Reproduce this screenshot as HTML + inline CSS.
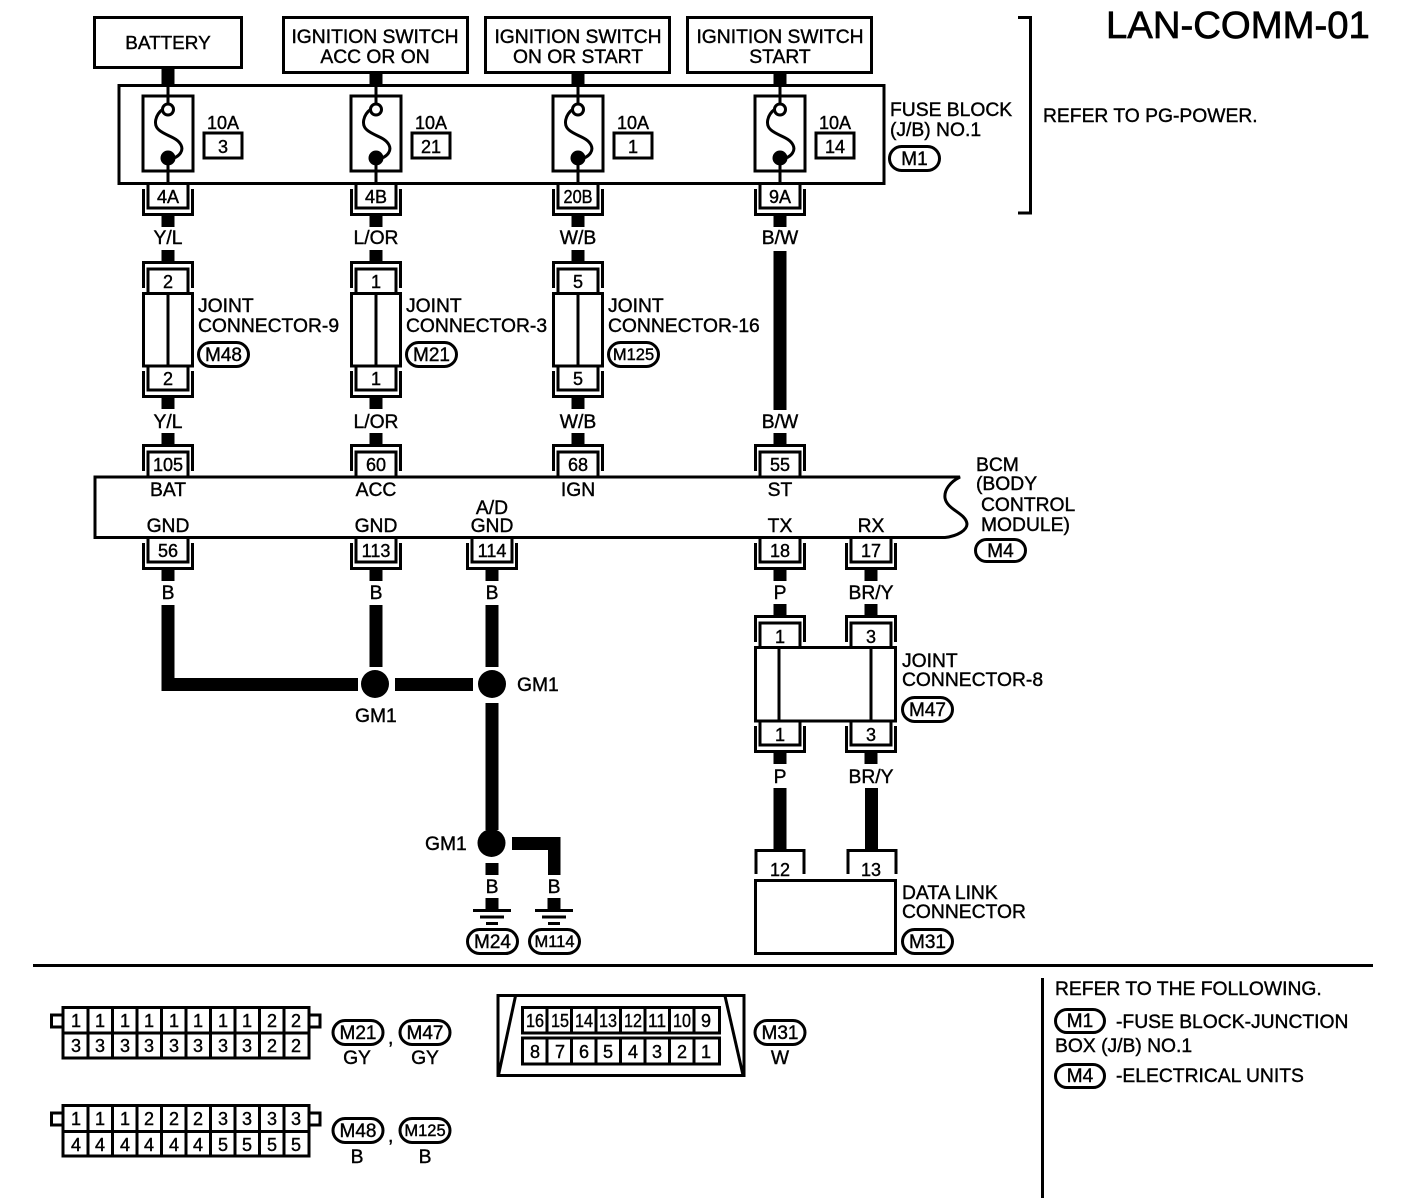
<!DOCTYPE html>
<html>
<head>
<meta charset="utf-8">
<style>
html,body{margin:0;padding:0;background:#fff;}
svg{display:block;}
text{font-family:"Liberation Sans",Arial,sans-serif;font-size:19.3px;fill:#000;stroke:#000;stroke-width:.4px;}
.c{text-anchor:middle;}
.n{font-size:18px;text-anchor:middle;}
.p{font-size:19px;text-anchor:middle;}
.s{fill:none;stroke:#000;stroke-width:3;}
.w{fill:#000;stroke:none;}
.l{fill:#fff;stroke:#000;stroke-width:3;}
</style>
</head>
<body>
<svg width="1408" height="1198" viewBox="0 0 1408 1198" xmlns="http://www.w3.org/2000/svg">
<defs>
<g id="u"><path class="s" d="M-20,0V24H20V0M-24.5,5V30.5H24.5V5"/><rect class="w" x="-6.5" y="31" width="13" height="12"/></g>
<g id="f">
<rect class="l" x="-25" y="12" width="50" height="75"/>
<path class="s" d="M0,1V19M0,74V98"/>
<circle cx="0" cy="25.5" r="5.5" fill="#fff" stroke="#000" stroke-width="3"/>
<circle cx="0" cy="74" r="7.5" fill="#000"/>
<path class="s" d="M-5,25C-13,31-15,41-9,46C-2,52,9,53,13,61C16,67,11,72,6,74"/>
<rect class="s" x="36" y="49" width="38" height="25"/>
</g>
<g id="g"><rect class="w" x="-6.5" y="0" width="13" height="11"/><path class="s" d="M-19,12.5H19M-12,19H12M-6,25.5H6"/></g>
</defs>

<!-- Title -->
<text x="1106" y="38" style="font-size:38.3px;stroke-width:.7px">LAN-COMM-01</text>

<!-- Top source boxes -->
<rect class="s" x="94.500" y="17.500" width="147" height="50" />
<rect class="s" x="283.500" y="17.500" width="184" height="55"/>
<rect class="s" x="485.500" y="17.500" width="184" height="55"/>
<rect class="s" x="687.500" y="17.500" width="184" height="55"/>
<text class="c" x="168" y="49" style="font-size:18.9px">BATTERY</text>
<text class="c" x="375" y="43">IGNITION SWITCH</text><text class="c" x="375" y="63">ACC OR ON</text>
<text class="c" x="578" y="43">IGNITION SWITCH</text><text class="c" x="578" y="63">ON OR START</text>
<text class="c" x="780" y="43">IGNITION SWITCH</text><text class="c" x="780" y="63">START</text>
<rect class="w" x="161.500" y="67" width="13" height="18"/>
<rect class="w" x="369.500" y="72" width="13" height="13"/>
<rect class="w" x="571.500" y="72" width="13" height="13"/>
<rect class="w" x="773.500" y="72" width="13" height="13"/>

<!-- Fuse block -->
<rect class="s" x="119" y="85.500" width="765" height="98"/>
<use href="#f" transform="translate(168,84)"/>
<use href="#f" transform="translate(376,84)"/>
<use href="#f" transform="translate(578,84)"/>
<use href="#f" transform="translate(780,84)"/>
<text class="n" x="223" y="129">10A</text><text class="n" x="223" y="153">3</text>
<text class="n" x="431" y="129">10A</text><text class="n" x="431" y="153">21</text>
<text class="n" x="633" y="129">10A</text><text class="n" x="633" y="153">1</text>
<text class="n" x="835" y="129">10A</text><text class="n" x="835" y="153">14</text>
<text x="890" y="116">FUSE BLOCK</text><text x="890" y="136">(J/B) NO.1</text>
<rect class="s" x="889.500" y="146.500" width="50" height="24" rx="12"/>
<text class="p" x="914.500" y="165">M1</text>
<path class="s" d="M1018,17.500H1030.500V213H1018"/>
<text x="1043" y="122">REFER TO PG-POWER.</text>

<!-- Fuse block output connectors -->
<use href="#u" transform="translate(168,184)"/>
<use href="#u" transform="translate(376,184)"/>
<use href="#u" transform="translate(578,184)"/>
<use href="#u" transform="translate(780,184)"/>
<text class="n" x="168" y="203">4A</text>
<text class="n" x="376" y="203">4B</text>
<text class="n" x="578" y="203" textLength="29" lengthAdjust="spacingAndGlyphs">20B</text>
<text class="n" x="780" y="203">9A</text>
<text class="c" x="168" y="244">Y/L</text>
<text class="c" x="376" y="244">L/OR</text>
<text class="c" x="578" y="244">W/B</text>
<text class="c" x="780" y="244">B/W</text>
<rect class="w" x="773.500" y="251" width="13" height="159"/>

<!-- Joint connectors top row -->
<use href="#u" transform="translate(168,293) scale(1,-1)"/>
<use href="#u" transform="translate(376,293) scale(1,-1)"/>
<use href="#u" transform="translate(578,293) scale(1,-1)"/>
<rect class="s" x="143.500" y="293.500" width="49" height="72.500"/><path class="s" d="M168,293V366"/>
<rect class="s" x="351.500" y="293.500" width="49" height="72.500"/><path class="s" d="M376,293V366"/>
<rect class="s" x="553.500" y="293.500" width="49" height="72.500"/><path class="s" d="M578,293V366"/>
<text class="n" x="168" y="288">2</text><text class="n" x="376" y="288">1</text><text class="n" x="578" y="288">5</text>
<use href="#u" transform="translate(168,366)"/>
<use href="#u" transform="translate(376,366)"/>
<use href="#u" transform="translate(578,366)"/>
<text class="n" x="168" y="385">2</text><text class="n" x="376" y="385">1</text><text class="n" x="578" y="385">5</text>

<text x="198" y="312">JOINT</text><text x="198" y="332">CONNECTOR-9</text>
<rect class="s" x="198.500" y="342.500" width="50" height="24" rx="12"/><text class="p" x="223.500" y="361">M48</text>
<text x="406" y="312">JOINT</text><text x="406" y="332">CONNECTOR-3</text>
<rect class="s" x="406.500" y="342.500" width="50" height="24" rx="12"/><text class="p" x="431.500" y="361">M21</text>
<text x="608" y="312">JOINT</text><text x="608" y="332">CONNECTOR-16</text>
<rect class="s" x="608.500" y="342.500" width="50" height="24" rx="12"/><text class="p" x="633.500" y="360" style="font-size:16.5px">M125</text>

<text class="c" x="168" y="428">Y/L</text>
<text class="c" x="376" y="428">L/OR</text>
<text class="c" x="578" y="428">W/B</text>
<text class="c" x="780" y="428">B/W</text>

<!-- BCM -->
<use href="#u" transform="translate(168,476) scale(1,-1)"/>
<use href="#u" transform="translate(376,476) scale(1,-1)"/>
<use href="#u" transform="translate(578,476) scale(1,-1)"/>
<use href="#u" transform="translate(780,476) scale(1,-1)"/>
<text class="n" x="168" y="471">105</text><text class="n" x="376" y="471">60</text><text class="n" x="578" y="471">68</text><text class="n" x="780" y="471">55</text>
<path d="M95,477H960C950,482,944,490,945,498C947,510,966,513,967,524C967,530,958,536,945,537.500H95Z" fill="#fff" stroke="#000" stroke-width="3"/>
<text class="c" x="168" y="496">BAT</text><text class="c" x="376" y="496">ACC</text><text class="c" x="578" y="496">IGN</text><text class="c" x="780" y="496">ST</text>
<text class="c" x="168" y="532">GND</text><text class="c" x="376" y="532">GND</text>
<text class="c" x="492" y="514">A/D</text><text class="c" x="492" y="532">GND</text>
<text class="c" x="780" y="532">TX</text><text class="c" x="871" y="532">RX</text>
<text x="976" y="471">BCM</text><text x="976" y="490">(BODY</text><text x="981" y="511">CONTROL</text><text x="981" y="531">MODULE)</text>
<rect class="s" x="975.500" y="539.500" width="50" height="22" rx="11"/><text class="p" x="1000.500" y="557">M4</text>

<use href="#u" transform="translate(168,538)"/>
<use href="#u" transform="translate(376,538)"/>
<use href="#u" transform="translate(492,538)"/>
<use href="#u" transform="translate(780,538)"/>
<use href="#u" transform="translate(871,538)"/>
<text class="n" x="168" y="557">56</text>
<text class="n" x="376" y="557">113</text>
<text class="n" x="492" y="557">114</text>
<text class="n" x="780" y="557">18</text>
<text class="n" x="871" y="557">17</text>
<text class="c" x="168" y="599">B</text><text class="c" x="376" y="599">B</text><text class="c" x="492" y="599">B</text>
<text class="c" x="780" y="599">P</text><text class="c" x="871" y="599">BR/Y</text>

<!-- Ground wires -->
<path class="w" d="M161.500,605H174.500V678H358V691H161.500Z"/>
<rect class="w" x="369.500" y="605" width="13" height="62"/>
<rect class="w" x="485.500" y="605" width="13" height="62"/>
<rect class="w" x="395" y="678" width="78" height="13"/>
<circle cx="375" cy="684" r="14"/><circle cx="492" cy="684" r="14"/>
<rect class="w" x="485.500" y="703" width="13" height="127"/>
<circle cx="491.500" cy="843" r="14"/>
<rect class="w" x="485.500" y="863" width="13" height="12"/>
<path class="w" d="M512,837H560.500V875H548V850H512Z"/>
<text x="355" y="722">GM1</text><text x="517" y="691">GM1</text><text x="425" y="850">GM1</text>
<text class="c" x="492" y="893">B</text><text class="c" x="554" y="893">B</text>
<use href="#g" transform="translate(492,898)"/>
<use href="#g" transform="translate(554,898)"/>
<rect class="s" x="467.500" y="929.500" width="50" height="24" rx="12"/><text class="p" x="492.500" y="948">M24</text>
<rect class="s" x="529.500" y="929.500" width="50" height="24" rx="12"/><text class="p" x="554.500" y="947" style="font-size:16.5px">M114</text>

<!-- Joint connector 8 -->
<use href="#u" transform="translate(780,647) scale(1,-1)"/>
<use href="#u" transform="translate(871,647) scale(1,-1)"/>
<rect class="s" x="755.500" y="647.500" width="140" height="73.500"/>
<path class="s" d="M779,647V721M871,647V721"/>
<text class="n" x="780" y="643">1</text><text class="n" x="871" y="643">3</text>
<use href="#u" transform="translate(780,721)"/>
<use href="#u" transform="translate(871,721)"/>
<text class="n" x="780" y="741">1</text><text class="n" x="871" y="741">3</text>
<text x="902" y="667">JOINT</text><text x="902" y="686">CONNECTOR-8</text>
<rect class="s" x="902.500" y="697.500" width="50" height="24" rx="12"/><text class="p" x="927.500" y="716">M47</text>
<text class="c" x="780" y="783">P</text><text class="c" x="871" y="783">BR/Y</text>
<rect class="w" x="773.500" y="788" width="13" height="62"/>
<rect class="w" x="865" y="788" width="13" height="62"/>

<!-- Data link -->
<path class="s" d="M756,874V850.500H804V874M848,874V850.500H896V874"/>
<rect class="s" x="755.500" y="880.500" width="140" height="73"/>
<text class="n" x="780" y="876">12</text><text class="n" x="871" y="876">13</text>
<text x="902" y="899">DATA LINK</text><text x="902" y="918">CONNECTOR</text>
<rect class="s" x="902.500" y="929.500" width="50" height="24" rx="12"/><text class="p" x="927.500" y="948">M31</text>

<!-- Divider -->
<path class="s" d="M33,965.500H1373"/>
<path class="s" d="M1042.500,978V1198"/>

<!-- Connector face 1 -->
<rect class="s" x="63" y="1007.500" width="246" height="50.500"/>
<path class="s" d="M63,1033H309M88,1007V1058M112.500,1007V1058M137,1007V1058M161.500,1007V1058M186,1007V1058M210.500,1007V1058M235,1007V1058M259.500,1007V1058M284,1007V1058"/>
<path class="s" d="M62,1015H51.500V1027H62M309,1015H320V1027H309"/>
<text class="n" x="76" y="1027">1</text><text class="n" x="100" y="1027">1</text><text class="n" x="125" y="1027">1</text><text class="n" x="149" y="1027">1</text><text class="n" x="174" y="1027">1</text><text class="n" x="198" y="1027">1</text><text class="n" x="223" y="1027">1</text><text class="n" x="247" y="1027">1</text><text class="n" x="272" y="1027">2</text><text class="n" x="296" y="1027">2</text>
<text class="n" x="76" y="1052">3</text><text class="n" x="100" y="1052">3</text><text class="n" x="125" y="1052">3</text><text class="n" x="149" y="1052">3</text><text class="n" x="174" y="1052">3</text><text class="n" x="198" y="1052">3</text><text class="n" x="223" y="1052">3</text><text class="n" x="247" y="1052">3</text><text class="n" x="272" y="1052">2</text><text class="n" x="296" y="1052">2</text>
<rect class="s" x="333" y="1020.500" width="50" height="24" rx="12"/><text class="p" x="358" y="1039">M21</text>
<text x="388" y="1044">,</text>
<rect class="s" x="400" y="1020.500" width="50" height="24" rx="12"/><text class="p" x="425" y="1039">M47</text>
<text class="c" x="357" y="1064">GY</text><text class="c" x="425" y="1064">GY</text>

<!-- Connector face 2 -->
<rect class="s" x="63" y="1105.500" width="246" height="50.500"/>
<path class="s" d="M63,1131.500H309M88,1105V1156M112.500,1105V1156M137,1105V1156M161.500,1105V1156M186,1105V1156M210.500,1105V1156M235,1105V1156M259.500,1105V1156M284,1105V1156"/>
<path class="s" d="M62,1113H51.500V1125H62M309,1113H320V1125H309"/>
<text class="n" x="76" y="1125">1</text><text class="n" x="100" y="1125">1</text><text class="n" x="125" y="1125">1</text><text class="n" x="149" y="1125">2</text><text class="n" x="174" y="1125">2</text><text class="n" x="198" y="1125">2</text><text class="n" x="223" y="1125">3</text><text class="n" x="247" y="1125">3</text><text class="n" x="272" y="1125">3</text><text class="n" x="296" y="1125">3</text>
<text class="n" x="76" y="1151">4</text><text class="n" x="100" y="1151">4</text><text class="n" x="125" y="1151">4</text><text class="n" x="149" y="1151">4</text><text class="n" x="174" y="1151">4</text><text class="n" x="198" y="1151">4</text><text class="n" x="223" y="1151">5</text><text class="n" x="247" y="1151">5</text><text class="n" x="272" y="1151">5</text><text class="n" x="296" y="1151">5</text>
<rect class="s" x="333" y="1118.500" width="50" height="24" rx="12"/><text class="p" x="358" y="1137">M48</text>
<text x="388" y="1142">,</text>
<rect class="s" x="400" y="1118.500" width="50" height="24" rx="12"/><text class="p" x="425" y="1136" style="font-size:16.5px">M125</text>
<text class="c" x="357" y="1163">B</text><text class="c" x="425" y="1163">B</text>

<!-- OBD -->
<rect class="s" x="498" y="995.500" width="246" height="80"/>
<path class="s" d="M515.500,996L498.500,1075M725,996L743,1075"/>
<rect class="s" x="522.500" y="1007.500" width="197" height="25.500"/>
<rect class="s" x="522.500" y="1038" width="197" height="26"/>
<path class="s" d="M547,1007V1033M571.500,1007V1033M596,1007V1033M620.500,1007V1033M645,1007V1033M669.500,1007V1033M694,1007V1033M547,1038V1064M571.500,1038V1064M596,1038V1064M620.500,1038V1064M645,1038V1064M669.500,1038V1064M694,1038V1064"/>
<text class="n" x="535" y="1027" textLength="18" lengthAdjust="spacingAndGlyphs">16</text><text class="n" x="560" y="1027" textLength="18" lengthAdjust="spacingAndGlyphs">15</text><text class="n" x="584" y="1027" textLength="18" lengthAdjust="spacingAndGlyphs">14</text><text class="n" x="608" y="1027" textLength="18" lengthAdjust="spacingAndGlyphs">13</text><text class="n" x="633" y="1027" textLength="18" lengthAdjust="spacingAndGlyphs">12</text><text class="n" x="657" y="1027" textLength="18" lengthAdjust="spacingAndGlyphs">11</text><text class="n" x="682" y="1027" textLength="18" lengthAdjust="spacingAndGlyphs">10</text><text class="n" x="706" y="1027">9</text>
<text class="n" x="535" y="1058">8</text><text class="n" x="560" y="1058">7</text><text class="n" x="584" y="1058">6</text><text class="n" x="608" y="1058">5</text><text class="n" x="633" y="1058">4</text><text class="n" x="657" y="1058">3</text><text class="n" x="682" y="1058">2</text><text class="n" x="706" y="1058">1</text>
<rect class="s" x="755" y="1020.500" width="50" height="24" rx="12"/><text class="p" x="780" y="1039">M31</text>
<text class="c" x="780" y="1064">W</text>

<!-- Legend -->
<text x="1055" y="995">REFER TO THE FOLLOWING.</text>
<rect class="s" x="1055.500" y="1009.500" width="49" height="23" rx="11.500"/><text class="p" x="1080" y="1027">M1</text>
<text x="1116" y="1028">-FUSE BLOCK-JUNCTION</text>
<text x="1055" y="1052">BOX (J/B) NO.1</text>
<rect class="s" x="1055.500" y="1064.500" width="49" height="23" rx="11.500"/><text class="p" x="1080" y="1082">M4</text>
<text x="1116" y="1082">-ELECTRICAL UNITS</text>
</svg>
</body>
</html>
